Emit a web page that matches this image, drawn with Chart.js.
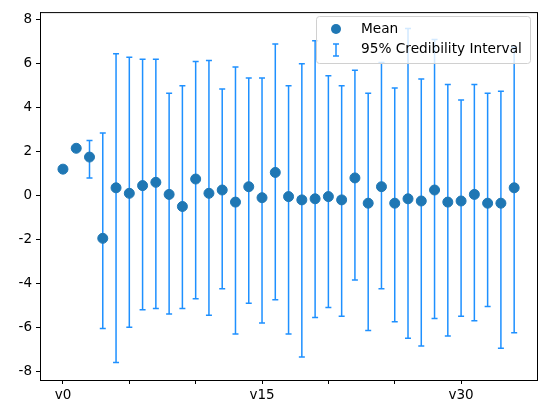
<!DOCTYPE html>
<html>
<head>
<meta charset="utf-8">
<script src="https://cdn.jsdelivr.net/npm/chart.js@4"></script>
<style>
  body { margin: 0; background: #fff; }
  #holder { width: 546px; height: 413px; }
</style>
</head>
<body>
<div id="holder"><canvas id="myChart"></canvas></div>
<script>
var labels = [];
for (var i = 0; i < 35; i++) labels.push('v' + i);

var means = [1.2, 2.15, 1.75, -1.95, 0.35, 0.1, 0.45, 0.6, 0.05, -0.5,
    0.75, 0.1, 0.25, -0.3, 0.4, -0.1, 1.05, -0.05, -0.2, -0.15,
    -0.05, -0.2, 0.8, -0.35, 0.4, -0.35, -0.15, -0.25, 0.25, -0.3,
    -0.25, 0.05, -0.35, -0.35, 0.35];
var lower = [null, null, 0.8, -6.05, -7.6, -6.0, -5.2, -5.15, -5.4, -5.15,
    -4.7, -5.45, -4.25, -6.3, -4.9, -5.8, -4.75, -6.3, -7.35, -5.55,
    -5.1, -5.5, -3.85, -6.15, -4.25, -5.75, -6.5, -6.85, -5.6, -6.4,
    -5.5, -5.7, -5.05, -6.95, -6.25];
var upper = [null, null, 2.5, 2.85, 6.45, 6.3, 6.2, 6.2, 4.65, 5.0,
    6.1, 6.15, 4.85, 5.85, 5.35, 5.35, 6.9, 5.0, 6.0, 7.05,
    5.45, 5.0, 5.7, 4.65, 6.05, 4.9, 7.6, 5.3, 7.1, 5.05,
    4.35, 5.05, 4.65, 4.75, 6.75];
var tickLabels = { 0: 'v0', 15: 'v15', 30: 'v30' };

var meanColor = '#1f77b4';
var barColor = '#1e90ff';
var font = "'DejaVu Sans', sans-serif";

var errorBars = {
    id: 'errorBars',
    beforeDatasetsDraw: function (chart) {
        var c = chart.ctx, xs = chart.scales.x, ys = chart.scales.y;
        c.save();
        c.strokeStyle = barColor;
        c.lineWidth = 1.5;
        for (var i = 0; i < means.length; i++) {
            if (lower[i] === null) continue;
            var x = xs.getPixelForValue(i);
            var y1 = ys.getPixelForValue(lower[i]);
            var y2 = ys.getPixelForValue(upper[i]);
            c.beginPath();
            c.moveTo(x, y1); c.lineTo(x, y2);
            c.moveTo(x - 3, y1); c.lineTo(x + 3, y1);
            c.moveTo(x - 3, y2); c.lineTo(x + 3, y2);
            c.stroke();
        }
        c.restore();
    },
    afterDraw: function (chart) {
        var c = chart.ctx, a = chart.chartArea;
        c.save();
        c.strokeStyle = '#000';
        c.lineWidth = 1;
        c.strokeRect(a.left + 0.5, a.top + 0.5, a.right - a.left, a.bottom - a.top);
        // legend
        var lx = 316, ly = 16, lw = 214, lh = 47;
        c.fillStyle = 'rgba(255,255,255,0.8)';
        c.strokeStyle = '#d0d0d0';
        c.beginPath();
        c.roundRect(lx + 0.5, ly + 0.5, lw, lh, 3);
        c.fill(); c.stroke();
        c.fillStyle = meanColor;
        c.beginPath(); c.arc(336, 29, 5, 0, Math.PI * 2); c.fill();
        c.strokeStyle = barColor; c.lineWidth = 1.5;
        c.beginPath();
        c.moveTo(336, 44); c.lineTo(336, 56);
        c.moveTo(333, 44); c.lineTo(339, 44);
        c.moveTo(333, 56); c.lineTo(339, 56);
        c.stroke();
        c.fillStyle = '#000';
        c.font = '13.7px ' + font;
        c.textBaseline = 'middle';
        c.fillText('Mean', 361, 29);
        c.fillText('95% Credibility Interval', 361, 49);
        c.restore();
    }
};

var points = means.map(function (v, i) { return { x: i, y: v }; });

var config = {
    type: 'scatter',
    data: {
        datasets: [{
            label: 'Mean',
            data: points,
            backgroundColor: meanColor,
            borderColor: meanColor,
            pointRadius: 5,
            pointHoverRadius: 5
        }]
    },
    options: {
        responsive: true,
        maintainAspectRatio: false,
        animation: false,
        layout: { padding: { left: 0, right: 9, top: 10, bottom: 0 } },
        plugins: { legend: { display: false }, tooltip: { enabled: false } },
        scales: {
            x: {
                type: 'linear',
                min: -1.73,
                max: 35.72,
                afterBuildTicks: function (axis) {
                    axis.ticks = [0, 5, 10, 15, 20, 25, 30].map(function (v) { return { value: v }; });
                },
                ticks: {
                    autoSkip: false,
                    maxRotation: 0,
                    color: '#000',
                    font: { family: font, size: 13.5 },
                    callback: function (v) { return tickLabels[v] || ''; }
                },
                grid: { drawOnChartArea: false, color: '#000', tickLength: 4 },
                border: { color: '#000' },
                afterFit: function (axis) { axis.height = 33; }
            },
            y: {
                min: -8.4,
                max: 8.35,
                afterBuildTicks: function (axis) {
                    axis.ticks = [-8, -6, -4, -2, 0, 2, 4, 6, 8].map(function (v) { return { value: v }; });
                },
                ticks: {
                    color: '#000',
                    font: { family: font, size: 13.5 },
                    padding: 4
                },
                grid: { drawOnChartArea: false, color: '#000', tickLength: 4 },
                border: { color: '#000' },
                afterFit: function (axis) { axis.width = 40; }
            }
        }
    },
    plugins: [errorBars]
};

window.onload = function () {
    new Chart(document.getElementById('myChart'), config);
};
</script>
</body>
</html>
